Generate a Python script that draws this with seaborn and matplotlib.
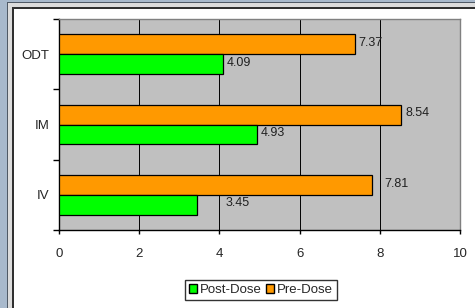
import matplotlib
matplotlib.use("Agg")
import matplotlib.pyplot as plt
from matplotlib.patches import Rectangle, Patch
import pandas as pd
import seaborn as sns

# data
categories = ["ODT", "IM", "IV"]
pre_dose = [7.37, 8.54, 7.81]
post_dose = [4.09, 4.93, 3.45]
series = ["Pre-Dose", "Post-Dose"]
colors = {"Pre-Dose": "#ff9900", "Post-Dose": "#00ff00"}
x_ticks = [0, 2, 4, 6, 8, 10]

df = pd.DataFrame({
    "cat": categories * 2,
    "val": pre_dose + post_dose,
    "dose": ["Pre-Dose"] * 3 + ["Post-Dose"] * 3,
})

sns.set_style("white")
plt.rcParams["font.family"] = ["Liberation Sans", "DejaVu Sans"]

fig = plt.figure(figsize=(4.75, 3.08), dpi=100)
fig.patch.set_facecolor("white")
ax = fig.add_axes([59 / 475, 78 / 308, 401 / 475, 211 / 308])
ax.set_facecolor("#c0c0c0")

sns.barplot(data=df, y="cat", x="val", hue="dose", hue_order=series,
            order=categories, orient="h", palette=colors, saturation=1, width=0.56,
            edgecolor="black", linewidth=0.9, legend=False, ax=ax, zorder=3)

ax.set_xlim(0, 10)
ax.set_ylim(2.5, -0.5)
ax.set_xticks(x_ticks)
ax.set_xticklabels([str(t) for t in x_ticks], fontsize=9.5)
ax.set_yticks(range(len(categories)))
ax.set_yticklabels(categories, fontsize=9.5)
ax.set_yticks([-0.5, 0.5, 1.5, 2.5], minor=True)
ax.tick_params(axis="y", which="major", length=0, pad=7)
ax.tick_params(axis="y", which="minor", length=4, width=1, color="black", direction="out", left=True)
ax.tick_params(axis="x", length=3, width=1, color="black", direction="out", pad=10, bottom=True)
ax.set_xlabel("")
ax.set_ylabel("")
ax.xaxis.grid(True, color="black", linewidth=0.7, zorder=1)
ax.set_axisbelow(True)

for side in ["left", "bottom"]:
    ax.spines[side].set_color("black")
    ax.spines[side].set_linewidth(1)
for side in ["top", "right"]:
    ax.spines[side].set_color("#808080")
    ax.spines[side].set_linewidth(1)

# value labels (excel placed the IV labels a bit further out)
label_pad = {"Pre-Dose": [3, 3, 9], "Post-Dose": [3, 3, 20]}
for c, s in zip(ax.containers, series):
    for bar, pad in zip(c, label_pad[s]):
        w = bar.get_width()
        yc = bar.get_y() + bar.get_height() / 2
        ax.annotate(f"{w:.2f}", (w, yc), xytext=(pad, 1), textcoords="offset points",
                    va="center", ha="left", fontsize=9, color="#202020")

handles = [Patch(facecolor=colors["Post-Dose"], edgecolor="black", label="Post-Dose"),
           Patch(facecolor=colors["Pre-Dose"], edgecolor="black", label="Pre-Dose")]
leg = fig.legend(handles=handles, loc="center", bbox_to_anchor=(261 / 475, 1 - 290 / 308),
                 ncol=2, fontsize=9.5, frameon=True, fancybox=False,
                 handlelength=0.6, handleheight=0.6, handletextpad=0.25,
                 columnspacing=0.3, borderpad=0.3, borderaxespad=0)
leg.get_frame().set_edgecolor("black")
leg.get_frame().set_linewidth(1)

# outer frame
W, H = 475, 308
def strip(x0, y0, w, h, color):
    fig.add_artist(Rectangle((x0 / W, 1 - (y0 + h) / H), w / W, h / H,
                             transform=fig.transFigure, facecolor=color,
                             linewidth=0, zorder=0))

strip(0, 0, 7, H, "#a8b9cc")
strip(0, 0, W, 2, "#a8b9cc")
strip(7, 2, 1, H, "#505a66")
strip(7, 2, W, 1, "#505a66")
strip(8, 3, 4, H, "#dcdcdc")
strip(8, 3, W, 4, "#dcdcdc")
strip(12, 7, 1.5, H, "#303030")
strip(12, 7, W, 1.5, "#303030")

fig.savefig("out.png", dpi=100)
